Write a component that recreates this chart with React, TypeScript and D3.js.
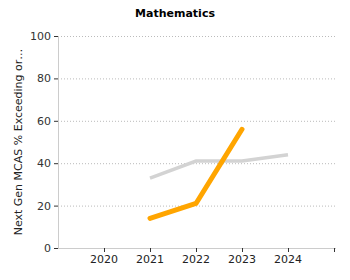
import React from "react";
import * as d3 from "d3";

const years = [2021, 2022, 2023, 2024];
const schoolValues: (number | null)[] = [14, 21, 56, null];
const stateValues: (number | null)[] = [33, 41, 41, 44];
const xTickYears = [2020, 2021, 2022, 2023, 2024];
const yTicks = [0, 20, 40, 60, 80, 100];
const title = "Mathematics";
const yLabel = "Next Gen MCAS % Exceeding or\u2026";

export default function App() {
  const W = 350, H = 280;
  const x = d3.scaleLinear().domain([2019, 2025]).range([58, 334]);
  const y = d3.scaleLinear().domain([0, 100]).range([248, 36]);
  const line = d3
    .line<[number, number | null]>()
    .defined((d) => d[1] != null)
    .x((d) => x(d[0]))
    .y((d) => y(d[1] as number));
  const font = "'DejaVu Sans', Verdana, sans-serif";
  return (
    <svg width={W} height={H} style={{ position: "absolute", left: 0, top: 0 }} fontFamily={font}>
      <rect width={W} height={H} fill="#fff" />
      <text x={175} y={17} textAnchor="middle" fontSize={11} fontWeight="bold" fill="#000">
        {title}
      </text>
      {yTicks.filter((t) => t > 0).map((t) => (
        <line key={"g" + t} x1={58} x2={336} y1={y(t) + 0.5} y2={y(t) + 0.5} stroke="#bbb" strokeDasharray="1,2" />
      ))}
      <line x1={58.5} x2={58.5} y1={36} y2={248} stroke="#ccc" />
      <line x1={58} x2={336} y1={248.5} y2={248.5} stroke="#ccc" />
      {yTicks.map((t) => (
        <g key={"y" + t}>
          <line x1={54} x2={58} y1={y(t) + 0.5} y2={y(t) + 0.5} stroke="#333" />
          <text x={51} y={y(t) + 4} textAnchor="end" fontSize={11} fill="#333">
            {t}
          </text>
        </g>
      ))}
      {[...xTickYears, 2025].map((t) => (
        <line key={"xt" + t} x1={Math.round(x(t)) + 0.5} x2={Math.round(x(t)) + 0.5} y1={248} y2={252} stroke="#333" />
      ))}
      {xTickYears.map((t) => (
        <text key={"xl" + t} x={x(t)} y={263} textAnchor="middle" fontSize={11} fill="#222">
          {t}
        </text>
      ))}
      <text
        transform={`translate(22,${(36 + 248) / 2}) rotate(-90)`}
        textAnchor="middle"
        fontSize={11}
        fill="#222"
      >
        {yLabel}
      </text>
      <path
        d={line(years.map((yr, i) => [yr, stateValues[i]])) || ""}
        fill="none"
        stroke="#d3d3d3"
        strokeWidth={3.5}
      />
      <path
        d={line(years.map((yr, i) => [yr, schoolValues[i]])) || ""}
        fill="none"
        stroke="#ffa500"
        strokeWidth={5}
        strokeLinecap="round"
        strokeLinejoin="round"
      />
    </svg>
  );
}
